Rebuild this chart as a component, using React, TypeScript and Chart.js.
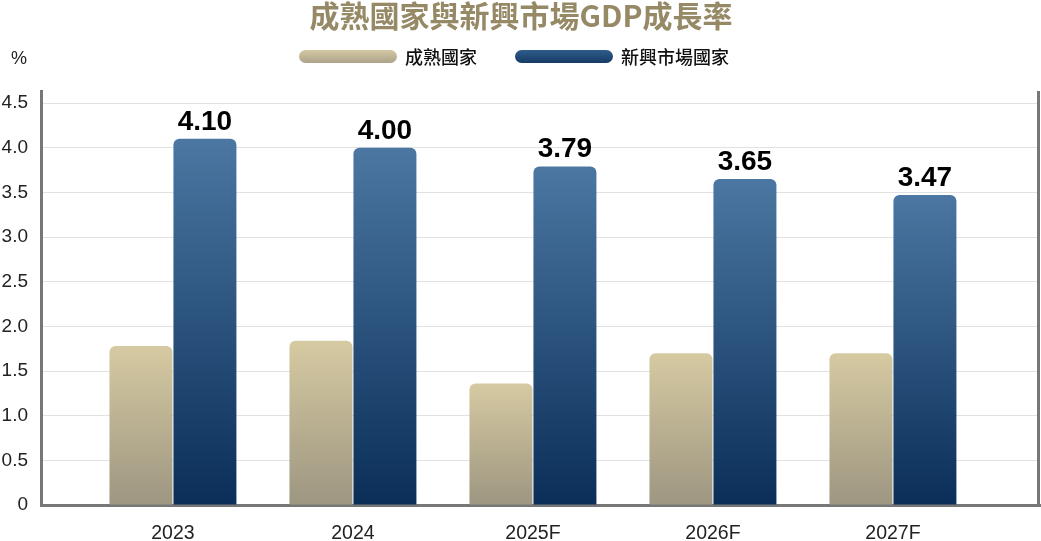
import React, { useEffect, useRef } from 'react';
import { Chart, registerables } from 'chart.js';

Chart.register(...registerables);

const titleText = '成熟國家與新興市場GDP成長率';
const unitText = '%';
const categories = ['2023', '2024', '2025F', '2026F', '2027F'];
const seriesNames = ['成熟國家', '新興市場國家'];
const matureValues = [1.78, 1.84, 1.36, 1.7, 1.7];
const emergingValues = [4.1, 4.0, 3.79, 3.65, 3.47];
const emergingLabels = ['4.10', '4.00', '3.79', '3.65', '3.47'];
const yTickValues = [0, 0.5, 1, 1.5, 2, 2.5, 3, 3.5, 4, 4.5];

const GOLD_TOP = '#d6caa2';
const GOLD_BOTTOM = '#9d9681';
const BLUE_TOP = '#4b77a2';
const BLUE_BOTTOM = '#0a2e57';

function barGradient(top: string, bottom: string) {
  return (ctx: any) => {
    const chart = ctx.chart;
    const y = chart.scales && chart.scales.y;
    if (!chart.chartArea || !y || ctx.type !== 'data') return bottom;
    const v = ctx.parsed ? ctx.parsed.y : ctx.raw.y;
    const yTop = y.getPixelForValue(v);
    const yBot = y.getPixelForValue(0);
    const g = chart.ctx.createLinearGradient(0, yTop, 0, yBot);
    g.addColorStop(0, top);
    g.addColorStop(1, bottom);
    return g;
  };
}

function pill(c: CanvasRenderingContext2D, x: number, y: number, w: number, h: number) {
  const r = h / 2;
  c.beginPath();
  c.moveTo(x + r, y);
  c.lineTo(x + w - r, y);
  c.arc(x + w - r, y + r, r, -Math.PI / 2, Math.PI / 2);
  c.lineTo(x + r, y + h);
  c.arc(x + r, y + r, r, Math.PI / 2, (3 * Math.PI) / 2);
  c.closePath();
}

const decorPlugin = {
  id: 'decor',
  afterDatasetsDraw(chart: any) {
    const c: CanvasRenderingContext2D = chart.ctx;
    const meta = chart.getDatasetMeta(1);
    c.save();
    c.fillStyle = '#000';
    c.font = 'bold 28px "Liberation Sans", Arial, sans-serif';
    c.textAlign = 'center';
    c.textBaseline = 'alphabetic';
    meta.data.forEach((bar: any, i: number) => {
      c.fillText(emergingLabels[i], bar.x, bar.y - 9);
    });
    c.restore();
  },
  afterDraw(chart: any) {
    const c: CanvasRenderingContext2D = chart.ctx;
    const area = chart.chartArea;
    c.save();
    // right border
    c.strokeStyle = '#777';
    c.lineWidth = 3;
    c.beginPath();
    c.moveTo(area.right - 1.5, area.top);
    c.lineTo(area.right - 1.5, area.bottom + 1.5);
    c.stroke();

    // title
    c.fillStyle = '#968966';
    c.font = 'bold 30px "Noto Sans CJK TC", sans-serif';
    c.textAlign = 'center';
    c.textBaseline = 'middle';
    c.fillText(titleText, 521, 16);

    // unit
    c.fillStyle = '#222';
    c.font = '18px "Liberation Sans", Arial, sans-serif';
    c.textAlign = 'left';
    c.fillText(unitText, 11, 59);

    // legend
    const items = [
      { x: 299, top: '#d4c8a3', bottom: '#aca38b', label: seriesNames[0] },
      { x: 515, top: '#2f5c8b', bottom: '#153b64', label: seriesNames[1] },
    ];
    items.forEach((it) => {
      const g = c.createLinearGradient(0, 50, 0, 63);
      g.addColorStop(0, it.top);
      g.addColorStop(1, it.bottom);
      c.fillStyle = g;
      pill(c, it.x, 50, 98, 13);
      c.fill();
      c.fillStyle = '#111';
      c.font = '500 18px "Noto Sans CJK TC", sans-serif';
      c.textAlign = 'left';
      c.textBaseline = 'middle';
      c.fillText(it.label, it.x + 106, 57);
    });
    c.restore();
  },
};

export default function App() {
  const canvasRef = useRef<HTMLCanvasElement | null>(null);

  useEffect(() => {
    if (!canvasRef.current) return;
    Chart.defaults.font.family = '"Liberation Sans", Arial, sans-serif';
    const chart = new Chart(canvasRef.current, {
      type: 'bar',
      data: {
        datasets: [
          {
            label: seriesNames[0],
            data: matureValues.map((v, i) => ({ x: i, y: v })),
            backgroundColor: barGradient(GOLD_TOP, GOLD_BOTTOM),
            borderRadius: { topLeft: 6, topRight: 6, bottomLeft: 0, bottomRight: 0 },
            borderSkipped: false,
            categoryPercentage: 0.711,
            barPercentage: 0.984,
          },
          {
            label: seriesNames[1],
            data: emergingValues.map((v, i) => ({ x: i, y: v })),
            backgroundColor: barGradient(BLUE_TOP, BLUE_BOTTOM),
            borderRadius: { topLeft: 6, topRight: 6, bottomLeft: 0, bottomRight: 0 },
            borderSkipped: false,
            categoryPercentage: 0.711,
            barPercentage: 0.984,
          },
        ],
      } as any,
      options: {
        responsive: false,
        animation: false,
        layout: { padding: { top: 91, right: 1, left: 0, bottom: 0 } },
        plugins: {
          legend: { display: false },
          title: { display: false },
          tooltip: { enabled: false },
        },
        scales: {
          x: {
            type: 'linear',
            offset: false,
            min: -0.733,
            max: 4.817,
            afterBuildTicks: (s: any) => {
              s.ticks = categories.map((_, i) => ({ value: i }));
            },
            afterFit: (s: any) => {
              s.height = 36;
            },
            ticks: {
              autoSkip: false,
              maxRotation: 0,
              padding: 17,
              color: '#222',
              font: { size: 19.5 },
              callback: (v: any) => categories[Math.round(Number(v))],
            },
            grid: { display: false, drawTicks: false, offset: false },
            border: { display: true, color: '#777', width: 3 },
          },
          y: {
            type: 'linear',
            min: 0,
            max: 4.635,
            afterBuildTicks: (s: any) => {
              s.ticks = yTickValues.map((v) => ({ value: v }));
            },
            afterFit: (s: any) => {
              s.width = 41;
            },
            ticks: {
              padding: 13,
              color: '#222',
              font: { size: 19 },
              callback: (v: any) => (Number(v) === 0 ? '0' : Number(v).toFixed(1)),
            },
            grid: { color: '#e1e1e1', lineWidth: 1, drawTicks: false },
            border: { display: true, color: '#777', width: 3 },
          },
        },
      } as any,
      plugins: [decorPlugin],
    });
    return () => chart.destroy();
  }, []);

  return (
    <div style={{ position: 'fixed', left: 0, top: 0, width: 1041, height: 541, background: '#fff' }}>
      <canvas ref={canvasRef} width={1041} height={541} style={{ display: 'block', width: 1041, height: 541 }} />
    </div>
  );
}
